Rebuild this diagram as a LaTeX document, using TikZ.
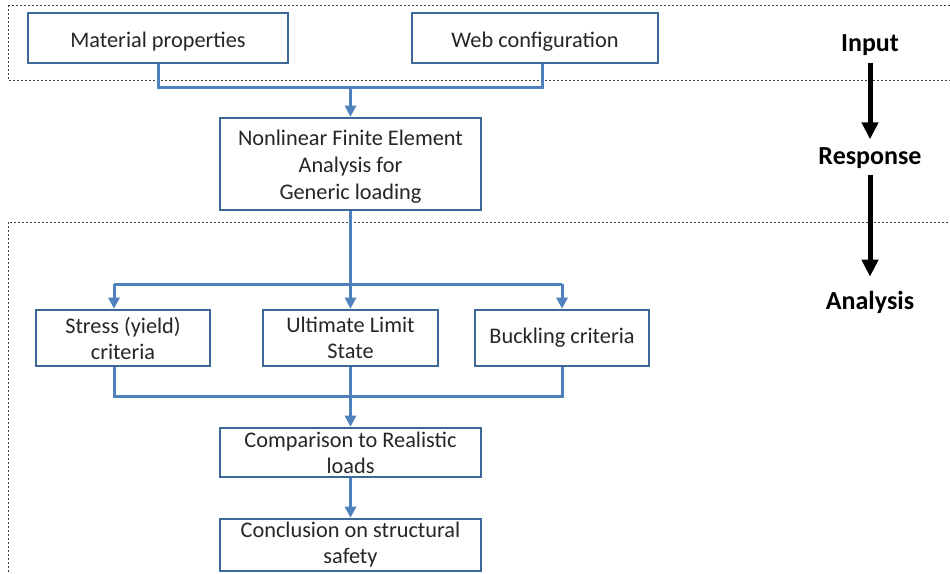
\documentclass[tikz,border=0pt]{standalone}
\usepackage{fontspec}
\setmainfont{Carlito}
\usetikzlibrary{arrows.meta,calc}
\definecolor{boxblue}{HTML}{3D6699}
\definecolor{lineblue}{HTML}{4F81BD}
\definecolor{txt}{HTML}{262626}
\newcommand{\lowtext}[2]{\raisebox{0pt}[\dimexpr\height+#1\relax][\depth]{\begin{tabular}{@{}c@{}}#2\end{tabular}}}
\tikzset{
  box/.style={draw=boxblue, line width=2.6pt, fill=white, rectangle, inner sep=0pt,
    align=center, text=txt, font=\fontsize{22.3}{26}\selectfont},
  conn/.style={draw=lineblue, line width=3pt},
  arr/.style={conn, -{Triangle[length=11pt,width=11pt]}},
  dashbox/.style={draw=black!75, line width=0.9pt, dash pattern=on 2.2pt off 1.8pt},
  lab/.style={font=\fontsize{26}{30}\selectfont\bfseries, inner sep=0pt},
  bigarr/.style={draw=black, line width=5pt, -{Triangle[length=17pt,width=16pt]}}
}
\begin{document}
\begin{tikzpicture}[x=1pt,y=-1pt]
\useasboundingbox (0,0) rectangle (950,573);
\clip (0,0) rectangle (950,573);
\fill[white] (0,0) rectangle (950,573);
% dashed frames
\draw[dashbox] (8,5) rectangle (960,80);
\draw[dashbox] (8,222) rectangle (960,590);
% boxes
\node[box, minimum width=260pt, minimum height=50pt] (mat) at (158,38) {\lowtext{8pt}{Material properties}};
\node[box, minimum width=246pt, minimum height=50pt] (web) at (535,38) {\lowtext{8pt}{Web configuration}};
\node[box, minimum width=261pt, minimum height=92pt, font=\fontsize{22.3}{27}\selectfont] (nfea) at (350.5,164) {\lowtext{6pt}{Nonlinear Finite Element\\Analysis for\\Generic loading}};
\node[box, minimum width=174pt, minimum height=56pt] (stress) at (123,338) {Stress (yield)\\criteria};
\node[box, minimum width=175pt, minimum height=56pt] (uls) at (350.5,338) {Ultimate Limit\\State};
\node[box, minimum width=174pt, minimum height=56pt] (buck) at (562,338) {Buckling criteria};
\node[box, minimum width=261pt, minimum height=49pt] (comp) at (350.5,452.5) {Comparison to Realistic\\loads};
\node[box, minimum width=261pt, minimum height=52pt] (concl) at (350.5,545) {Conclusion on structural\\safety};
% connectors
\coordinate (t1) at (158,87);
\coordinate (t2) at (542,87);
\coordinate (t3) at (350.5,87);
\draw[conn] (mat.south) -- (t1) -- (t2) -- (t2 |- web.south);
\draw[arr] (t3) -- (nfea.north);
\coordinate (j1) at (350.5,284);
\coordinate (jl) at (114,284);
\coordinate (jr) at (562,284);
\draw[conn] (nfea.south) -- (j1);
\draw[conn] (jl) -- (jr);
\draw[arr] (jl) -- (jl |- stress.north);
\draw[arr] (j1) -- (uls.north);
\draw[arr] (jr) -- (buck.north);
\coordinate (bl) at (114,396);
\coordinate (br) at (562,396);
\draw[conn] (bl |- stress.south) -- (bl) -- (br) -- (buck.south);
\draw[arr] (uls.south) -- (comp.north);
\draw[arr] (comp.south) -- (concl.north);
% right labels
\node[lab] (inp) at (870,45) {Input};
\node[lab] (resp) at (870,158) {Response};
\node[lab] (ana) at (870,302) {Analysis};
\draw[bigarr, shorten <=7pt, shorten >=8pt] (inp.south) -- (resp.north);
\draw[bigarr, shorten <=6pt, shorten >=14pt] (resp.south) -- (ana.north);
\end{tikzpicture}
\end{document}
